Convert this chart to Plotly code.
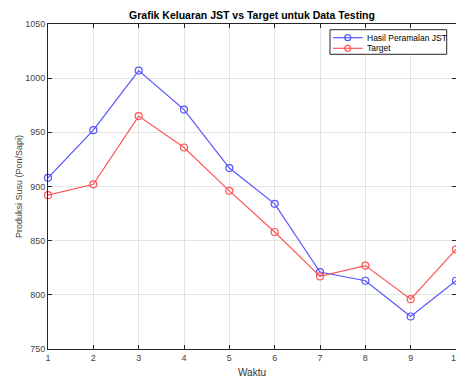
import plotly.graph_objects as go

waktu = [1, 2, 3, 4, 5, 6, 7, 8, 9, 10]
hasil_jst = [908, 952, 1007, 971, 917, 884, 821, 813, 780, 813]
target = [892, 902, 965, 936, 896, 858, 817, 827, 796, 842]
x_ticks = [1, 2, 3, 4, 5, 6, 7, 8, 9, 10]
y_ticks = [750, 800, 850, 900, 950, 1000, 1050]
series_names = ["Hasil Peramalan JST", "Target"]
series_colors = ["rgb(85,85,255)", "rgb(255,85,85)"]

FONT = "Liberation Sans, Arial, Helvetica, sans-serif"
AX = "#262626"

fig = go.Figure()
for name, ys, col in zip(series_names, [hasil_jst, target], series_colors):
    fig.add_trace(go.Scatter(
        x=waktu, y=ys, name=name, mode="lines+markers",
        line=dict(color=col, width=1.2),
        marker=dict(symbol="circle-open", size=7, color=col, line=dict(width=1.2)),
        showlegend=False, cliponaxis=False,
    ))

# Legend box drawn in MATLAB style (compact)
shapes = [dict(type="rect", xref="paper", yref="paper",
               x0=0.6912, x1=0.9772, y0=0.9068, y1=0.9825,
               line=dict(color=AX, width=1), fillcolor="white", layer="above")]
annotations = []
for i, (name, col) in enumerate(zip(series_names, series_colors)):
    yy = [0.9578, 0.9252][i]
    shapes.append(dict(type="line", xref="paper", yref="paper",
                       x0=0.6985, x1=0.7713, y0=yy, y1=yy,
                       line=dict(color=col, width=1.2), layer="above"))
    shapes.append(dict(type="circle", xref="paper", yref="paper",
                       xsizemode="pixel", ysizemode="pixel",
                       xanchor=0.7346, yanchor=yy, x0=-3, x1=3, y0=-3, y1=3,
                       line=dict(color=col, width=1.2), fillcolor="rgba(0,0,0,0)",
                       layer="above"))
    annotations.append(dict(text=name, xref="paper", yref="paper",
                            x=0.7770, y=yy, xanchor="left", yanchor="middle",
                            showarrow=False,
                            font=dict(size=8.5, color="#000000", family=FONT)))

fig.update_layout(
    width=456, height=378,
    margin=dict(l=48, r=0, t=24, b=29, autoexpand=False),
    paper_bgcolor="white", plot_bgcolor="white",
    font=dict(family=FONT, size=9, color=AX),
    title=dict(text="<b>Grafik Keluaran JST vs Target untuk Data Testing</b>",
               x=0.5, xref="paper", y=1 - 15 / 378, yref="container",
               yanchor="middle", font=dict(size=10.5, color="#000000")),
    showlegend=False,
    shapes=shapes,
    annotations=annotations,
)
fig.update_xaxes(
    range=[1, 10], tickvals=x_ticks, ticktext=[str(v) for v in x_ticks],
    showgrid=True, gridcolor="#e3e3e3", gridwidth=1, zeroline=False,
    showline=True, linecolor=AX, linewidth=1, mirror="ticks",
    ticks="inside", ticklen=4, tickcolor=AX, automargin=False,
    ticklabeloverflow="allow",
    tickfont=dict(size=9, color="#444444"),
    title=dict(text="Waktu", font=dict(size=10, color="#333333"), standoff=8),
)
fig.update_yaxes(
    range=[750, 1050], tickvals=y_ticks, ticktext=[str(v) for v in y_ticks],
    showgrid=True, gridcolor="#e3e3e3", gridwidth=1, zeroline=False,
    showline=True, linecolor=AX, linewidth=1, mirror="ticks",
    ticks="inside", ticklen=4, tickcolor=AX, automargin=False,
    tickfont=dict(size=9, color="#444444"),
    title=dict(text="Produksi Susu (Pon/Sapi)", font=dict(size=9, color="#444444"), standoff=1),
)

fig.write_html(
    "out.html",
    config={"displayModeBar": False},
    post_script="document.body.style.margin='0';document.body.style.overflow='hidden';",
)
